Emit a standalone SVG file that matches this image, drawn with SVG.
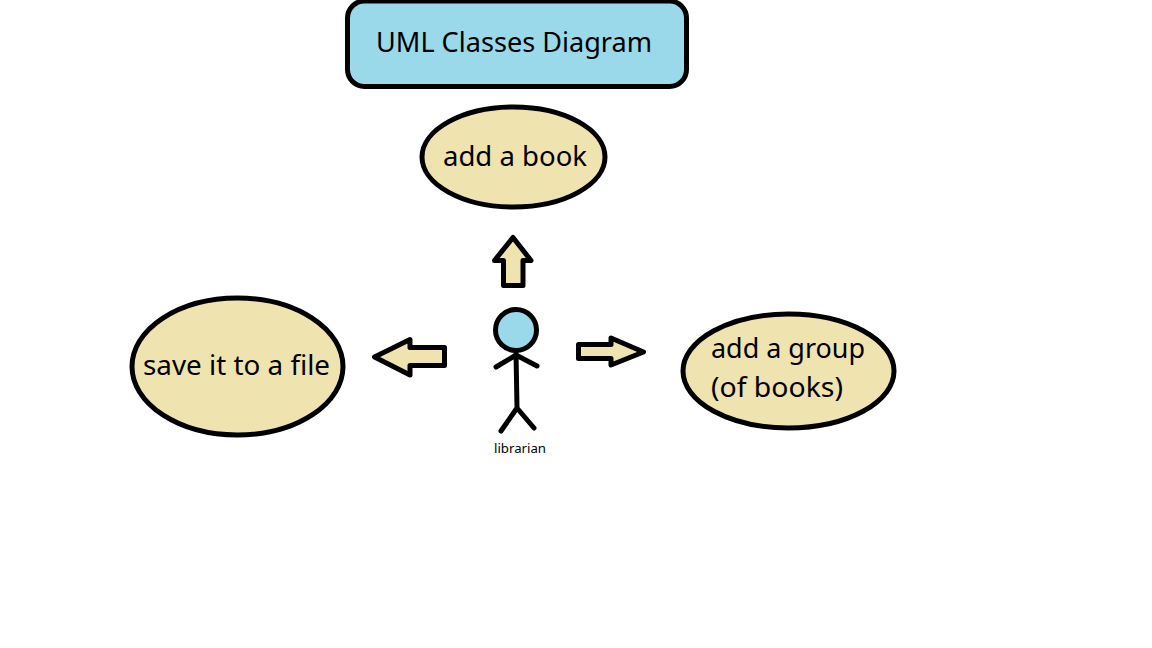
<svg xmlns="http://www.w3.org/2000/svg" width="1152" height="648" viewBox="0 0 1152 648">
<style>
.s{stroke:#000;stroke-width:5;stroke-linejoin:round}
.blue{fill:#99d9ea}
.tan{fill:#efe4b0}
.l{fill:none;stroke:#000;stroke-width:5;stroke-linecap:round;stroke-linejoin:round}
text{font-family:"Noto Sans","Open Sans","DejaVu Sans",sans-serif;fill:#000}
.t{font-size:28px}
</style>
<rect width="1152" height="648" fill="#fff"/>
<g id="title"><rect class="s blue" x="347.5" y="1" width="339" height="85.5" rx="17"/><text class="t" x="376" y="52" textLength="276" lengthAdjust="spacingAndGlyphs">UML Classes Diagram</text></g>
<g id="add-book"><ellipse class="s tan" cx="513.5" cy="157" rx="91.5" ry="50"/><text class="t" x="443" y="166" textLength="144" lengthAdjust="spacingAndGlyphs">add a book</text></g>
<g id="save-file"><ellipse class="s tan" cx="237.5" cy="366.5" rx="105.5" ry="68.5"/><text class="t" x="143" y="375" textLength="187" lengthAdjust="spacingAndGlyphs">save it to a file</text></g>
<g id="add-group"><ellipse class="s tan" cx="788.5" cy="371" rx="105.5" ry="57"/><text class="t" x="711" y="358" textLength="154" lengthAdjust="spacingAndGlyphs">add a group</text><text class="t" x="711" y="397" textLength="132" lengthAdjust="spacingAndGlyphs">(of books)</text></g>
<g id="librarian"><circle class="s blue" cx="516" cy="330" r="20.5"/><path class="l" d="M516 353L517 407M496 367L516 355L537 366M501 431L517 408L534 428"/><text x="494" y="453" font-size="13" fill="#0b3a5e" textLength="52" lengthAdjust="spacingAndGlyphs">librarian</text></g>
<g id="connectors">
<path class="s tan" d="M513 237.5L531 260.5H523V285.5H503.5V260.5H494.5Z"/>
<path class="s tan" d="M374.5 357L410 339.5V347.5H444.5V365.5H410V375Z"/>
<path class="s tan" d="M578.5 344.5H611V338L643.5 352L611 365V358.5H578.5Z"/>
</g>
</svg>
